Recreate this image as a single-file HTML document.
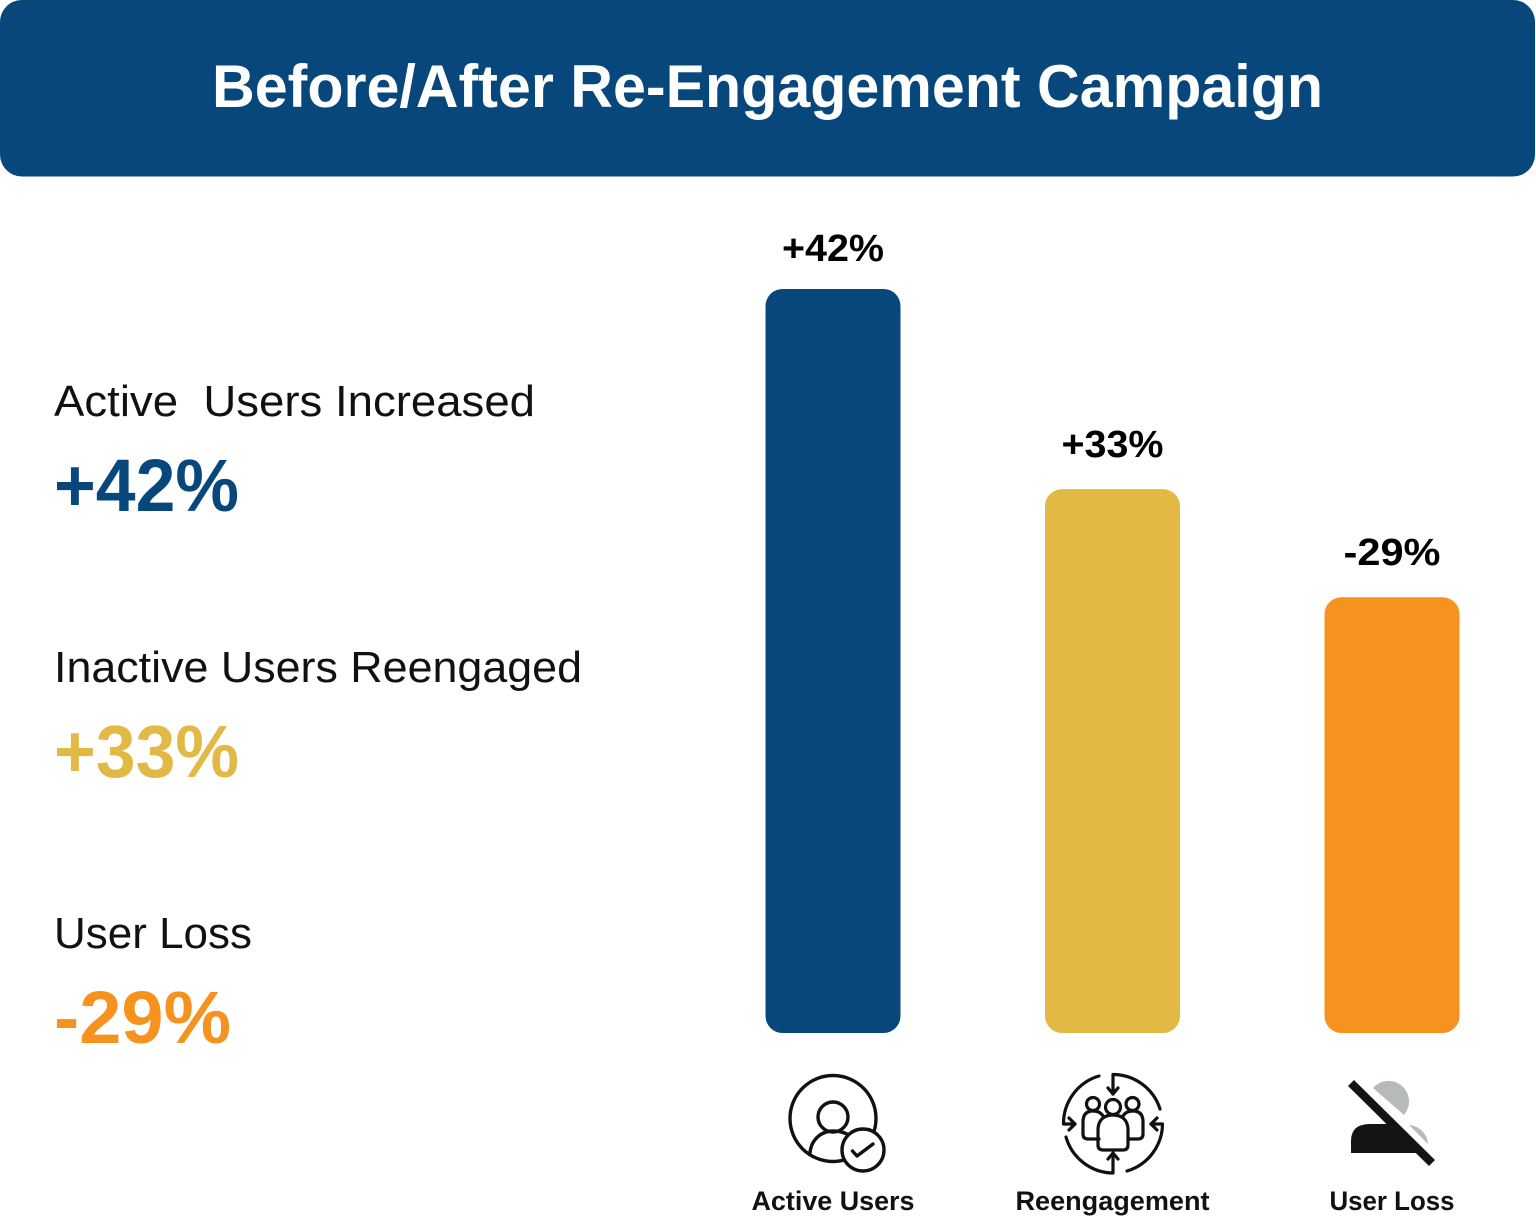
<!DOCTYPE html>
<html lang="en">
<head>
<meta charset="utf-8">
<title>Before/After Re-Engagement Campaign</title>
<style>
html,body{margin:0;padding:0;background:#fff;width:1536px;height:1225px;overflow:hidden}
svg{display:block;font-family:"Liberation Sans",sans-serif}
</style>
</head>
<body>
<svg id="chart" xmlns="http://www.w3.org/2000/svg" width="1536" height="1225" viewBox="0 0 1536 1225">
  <g>
    <rect x="0" y="0" width="1535" height="176.500" rx="22" fill="#07477c"/>
    <text x="212" y="107" font-size="60" font-weight="700" fill="#fff" textLength="1111" lengthAdjust="spacingAndGlyphs">Before/After Re-Engagement Campaign</text>
  </g>

  <g id="summary"></g>
  <g id="bars"></g>

  <g fill="none" stroke="#111" stroke-width="3.4" stroke-linecap="round" stroke-linejoin="round">
    <circle cx="833" cy="1118.500" r="43"/>
    <circle cx="833" cy="1117" r="15"/>
    <path d="M810 1153 C811 1140 821 1131 833 1131 C838 1131 843 1132 847 1134"/>
    <circle cx="863" cy="1150" r="21" fill="#fff"/>
    <path d="M852.500 1151 L857 1156 L873 1144"/>
  </g>

  <g fill="none" stroke="#111" stroke-width="3.2" stroke-linecap="round" stroke-linejoin="round">
    <path d="M1113 1094 V1074.500 A49.500 49.500 0 0 1 1160 1109"/>
    <path d="M1108 1088 L1113 1094 L1118 1088"/>
    <path d="M1099 1076 A49.500 49.500 0 0 0 1063.500 1124 H1075"/>
    <path d="M1069 1118 L1075 1124 L1069 1130"/>
    <path d="M1066 1137 A49.500 49.500 0 0 0 1113 1173 V1153"/>
    <path d="M1108 1159 L1113 1153 L1118 1159"/>
    <path d="M1127 1171 A49.500 49.500 0 0 0 1162.500 1124 H1151"/>
    <path d="M1157 1118 L1151 1124 L1157 1130"/>
    <circle cx="1093" cy="1104" r="6.500"/>
    <circle cx="1132.500" cy="1104" r="6.500"/>
    <path d="M1099 1139 H1088 Q1083 1139 1083 1134 V1122 Q1083 1111 1093 1111 Q1100 1111 1103 1116"/>
    <path d="M1128 1139 H1138 Q1143 1139 1143 1134 V1122 Q1143 1111 1133 1111 Q1126 1111 1123 1116"/>
    <circle cx="1113" cy="1107" r="7.500"/>
    <path d="M1098 1130 C1098 1120 1104 1115 1113 1115 C1122 1115 1128 1120 1128 1130 V1145 Q1128 1150 1123 1150 H1103 Q1098 1150 1098 1145 Z"/>
  </g>

  <g>
    <path d="M1373 1088 A18.500 18.500 0 1 1 1404 1115 Z" fill="#b7baba"/>
    <path d="M1409 1125 A20 20 0 0 1 1428 1144 Z" fill="#b7baba"/>
    <path d="M1351 1153 V1141 Q1351 1124 1370 1124 H1387 L1417 1153 Z" fill="#141414"/>
    <path d="M1351 1083 L1432 1163" stroke="#141414" stroke-width="8.500" fill="none"/>
  </g>
</svg>
<script>
const categories = ['Active Users', 'Reengagement', 'User Loss'];
const barValues = [42, 30.7, 24.6];
const valueLabels = ['+42%', '+33%', '-29%'];
const summaryTitles = ['Active  Users Increased', 'Inactive Users Reengaged', 'User Loss'];

const NS = 'http://www.w3.org/2000/svg';
const colors = ['#07477c', '#e2b945', '#f6921e'];
const baseline = 1033;
const unitHeight = 744 / 42;
const yScale = v => baseline - v * unitHeight;
const xCenter = i => 833 + i * 279.5;
const barWidth = 135;

function makeText(content, x, y, size, weight, fill, anchor, width) {
  const t = document.createElementNS(NS, 'text');
  t.textContent = content;
  t.setAttribute('x', x);
  t.setAttribute('y', y);
  t.setAttribute('font-size', size);
  t.setAttribute('font-weight', weight);
  t.setAttribute('fill', fill);
  t.setAttribute('text-anchor', anchor);
  t.setAttribute('xml:space', 'preserve');
  t.style.whiteSpace = 'pre';
  if (width) {
    t.setAttribute('textLength', width);
    t.setAttribute('lengthAdjust', 'spacingAndGlyphs');
  }
  return t;
}

const barsGroup = document.getElementById('bars');
const labelWidths = [102, 102, 97];
const categoryWidths = [163, 194, 125];
const labelGaps = [28, 32, 32];
categories.forEach((name, i) => {
  const top = yScale(barValues[i]);
  const r = document.createElementNS(NS, 'rect');
  
  
  r.setAttribute('x', xCenter(i) - barWidth / 2);
  r.setAttribute('y', top);
  r.setAttribute('width', barWidth);
  r.setAttribute('height', baseline - top);
  r.setAttribute('rx', 17);
  r.setAttribute('fill', colors[i]);
  barsGroup.appendChild(r);

  const v = makeText(valueLabels[i], xCenter(i), top - labelGaps[i], 38, 700, '#000', 'middle', labelWidths[i]);
  
  
  barsGroup.appendChild(v);

  const c = makeText(name, xCenter(i), 1210, 27, 700, '#111', 'middle', categoryWidths[i]);
  
  
  barsGroup.appendChild(c);
});

const summaryGroup = document.getElementById('summary');
const titleWidths = [481, 528, 198];
const valueWidths = [185, 185, 177];
summaryTitles.forEach((title, i) => {
  const rowOffset = i * 266;
  const t = makeText(title, 54, 416 + rowOffset, 44, 400, '#111', 'start', titleWidths[i]);
  
  
  summaryGroup.appendChild(t);

  const v = makeText(valueLabels[i], 54, 511 + rowOffset, 74, 700, colors[i], 'start', valueWidths[i]);
  
  
  summaryGroup.appendChild(v);
});
</script>
</body>
</html>
